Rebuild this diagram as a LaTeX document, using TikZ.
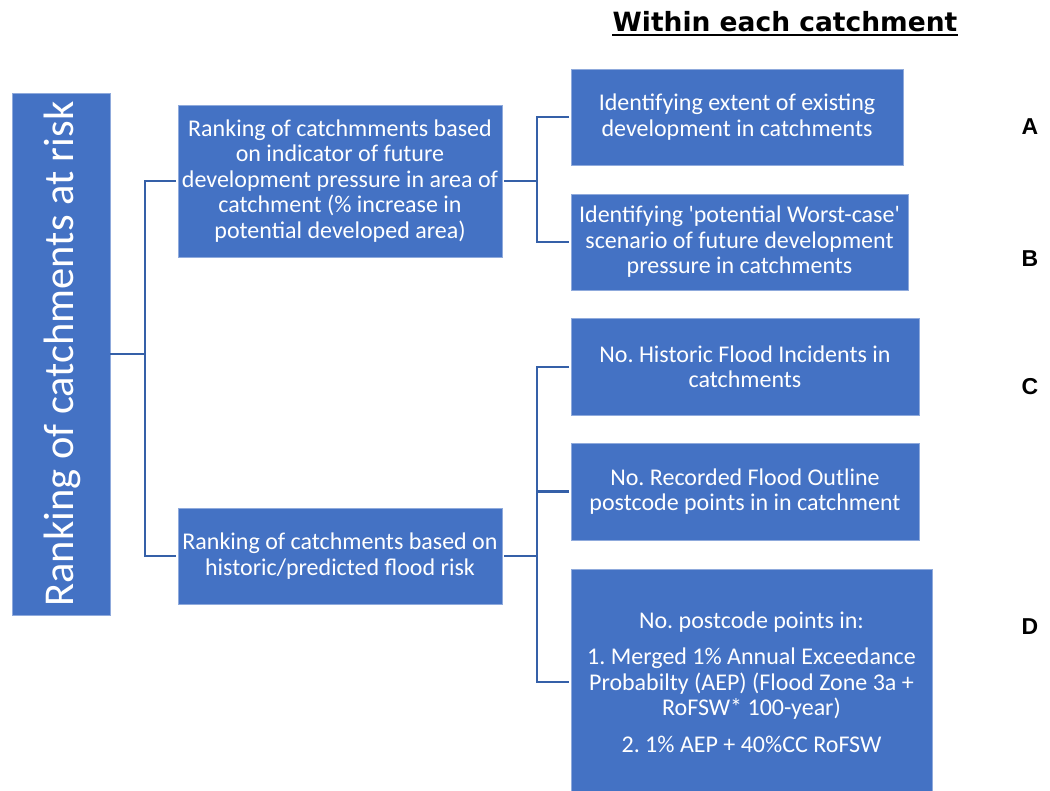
\documentclass[tikz,border=0pt]{standalone}
\usepackage{fontspec}
\setmainfont{Carlito}
\newfontfamily\titlefont{DejaVu Sans}
\newfontfamily\labelfont{Liberation Sans}
\definecolor{boxblue}{HTML}{4472C4}
\definecolor{boxedge}{HTML}{8FAADC}
\definecolor{linkblue}{HTML}{3560A8}
\tikzset{
  box/.style={rectangle, fill=boxblue, draw=boxedge, line width=0.8pt, text=white, align=center, inner sep=2pt,
    font=\frenchspacing\fontsize{24}{25.5}\selectfont},
  link/.style={draw=linkblue, line width=2.8pt},
  letter/.style={font=\labelfont\bfseries\fontsize{23}{26}\selectfont, inner sep=0pt}
}
\begin{document}
\begin{tikzpicture}[x=1pt,y=-1pt]
\useasboundingbox (0,0) rectangle (1050,791);
\clip (0,0) rectangle (1050,791);
% title
\node[font=\titlefont\bfseries\fontsize{26.5}{30}\selectfont, inner sep=0pt, anchor=base] (title) at (785,32) {Within each catchment};
\draw[line width=2.6pt] ([yshift=-3pt]title.base west) -- ([yshift=-3pt]title.base east);
% root
\node[box, minimum width=98, minimum height=522] (root) at (61,354) {};
\node[rotate=90, text=white, font=\fontsize{42.5}{48}\selectfont, inner sep=0pt] (roottext) at (62,354) {Ranking of catchments at risk};
% second level
\node[box, minimum width=324, minimum height=152] (fut) at (340,181) {Ranking of catchmments based\\on indicator of future\\development pressure in area of\\catchment (\% increase in\\potential developed area)};
\node[box, minimum width=324, minimum height=96] (hist) at (340,556) {Ranking of catchments based on\\historic/predicted flood risk};
% third level
\node[box, minimum width=332, minimum height=96] (A) at (737,117) {Identifying extent of existing\\development in catchments};
\node[box, minimum width=337, minimum height=96] (B) at (739.5,242) {Identifying \textquotesingle potential Worst-case\textquotesingle\\scenario of future development\\pressure in catchments};
\node[box, minimum width=348, minimum height=97] (C) at (745,367) {No. Historic Flood Incidents in\\catchments};
\node[box, minimum width=348, minimum height=97] (E) at (745,491.5) {No. Recorded Flood Outline\\postcode points in in catchment};
\node[box, minimum width=361, minimum height=226] (D) at (751.5,682) {No. postcode points in:\\[11pt]1. Merged 1\% Annual Exceedance\\Probabilty (AEP) (Flood Zone 3a +\\RoFSW* 100-year)\\[11pt]2. 1\% AEP + 40\%CC RoFSW};
% connectors
\coordinate (j1) at (145,354);
\coordinate (j2) at (537,181);
\coordinate (j3) at (537,556);
\draw[link] (root.east) -- (j1);
\draw[link] ([xshift=-1.5pt]fut.west) -| (j1) |- ([xshift=-1.5pt]hist.west);
\draw[link] ([xshift=1.5pt]fut.east) -- (j2);
\draw[link] ([xshift=-1.5pt]A.west) -| (j2) |- ([xshift=-1.5pt]B.west);
\draw[link] ([xshift=1.5pt]hist.east) -- (j3);
\draw[link] ([xshift=-1.5pt]C.west) -| (j3) |- ([xshift=-1.5pt]D.west);
\draw[link] ([xshift=-1.5pt]E.west) -- (E.west -| j3);
% letters
\node[letter] (la) at (1030,127) {A};
\node[letter] (lb) at (1030,259) {B};
\node[letter] (lc) at (1030,387) {C};
\node[letter] (ld) at (1030,627) {D};
\end{tikzpicture}
\end{document}
